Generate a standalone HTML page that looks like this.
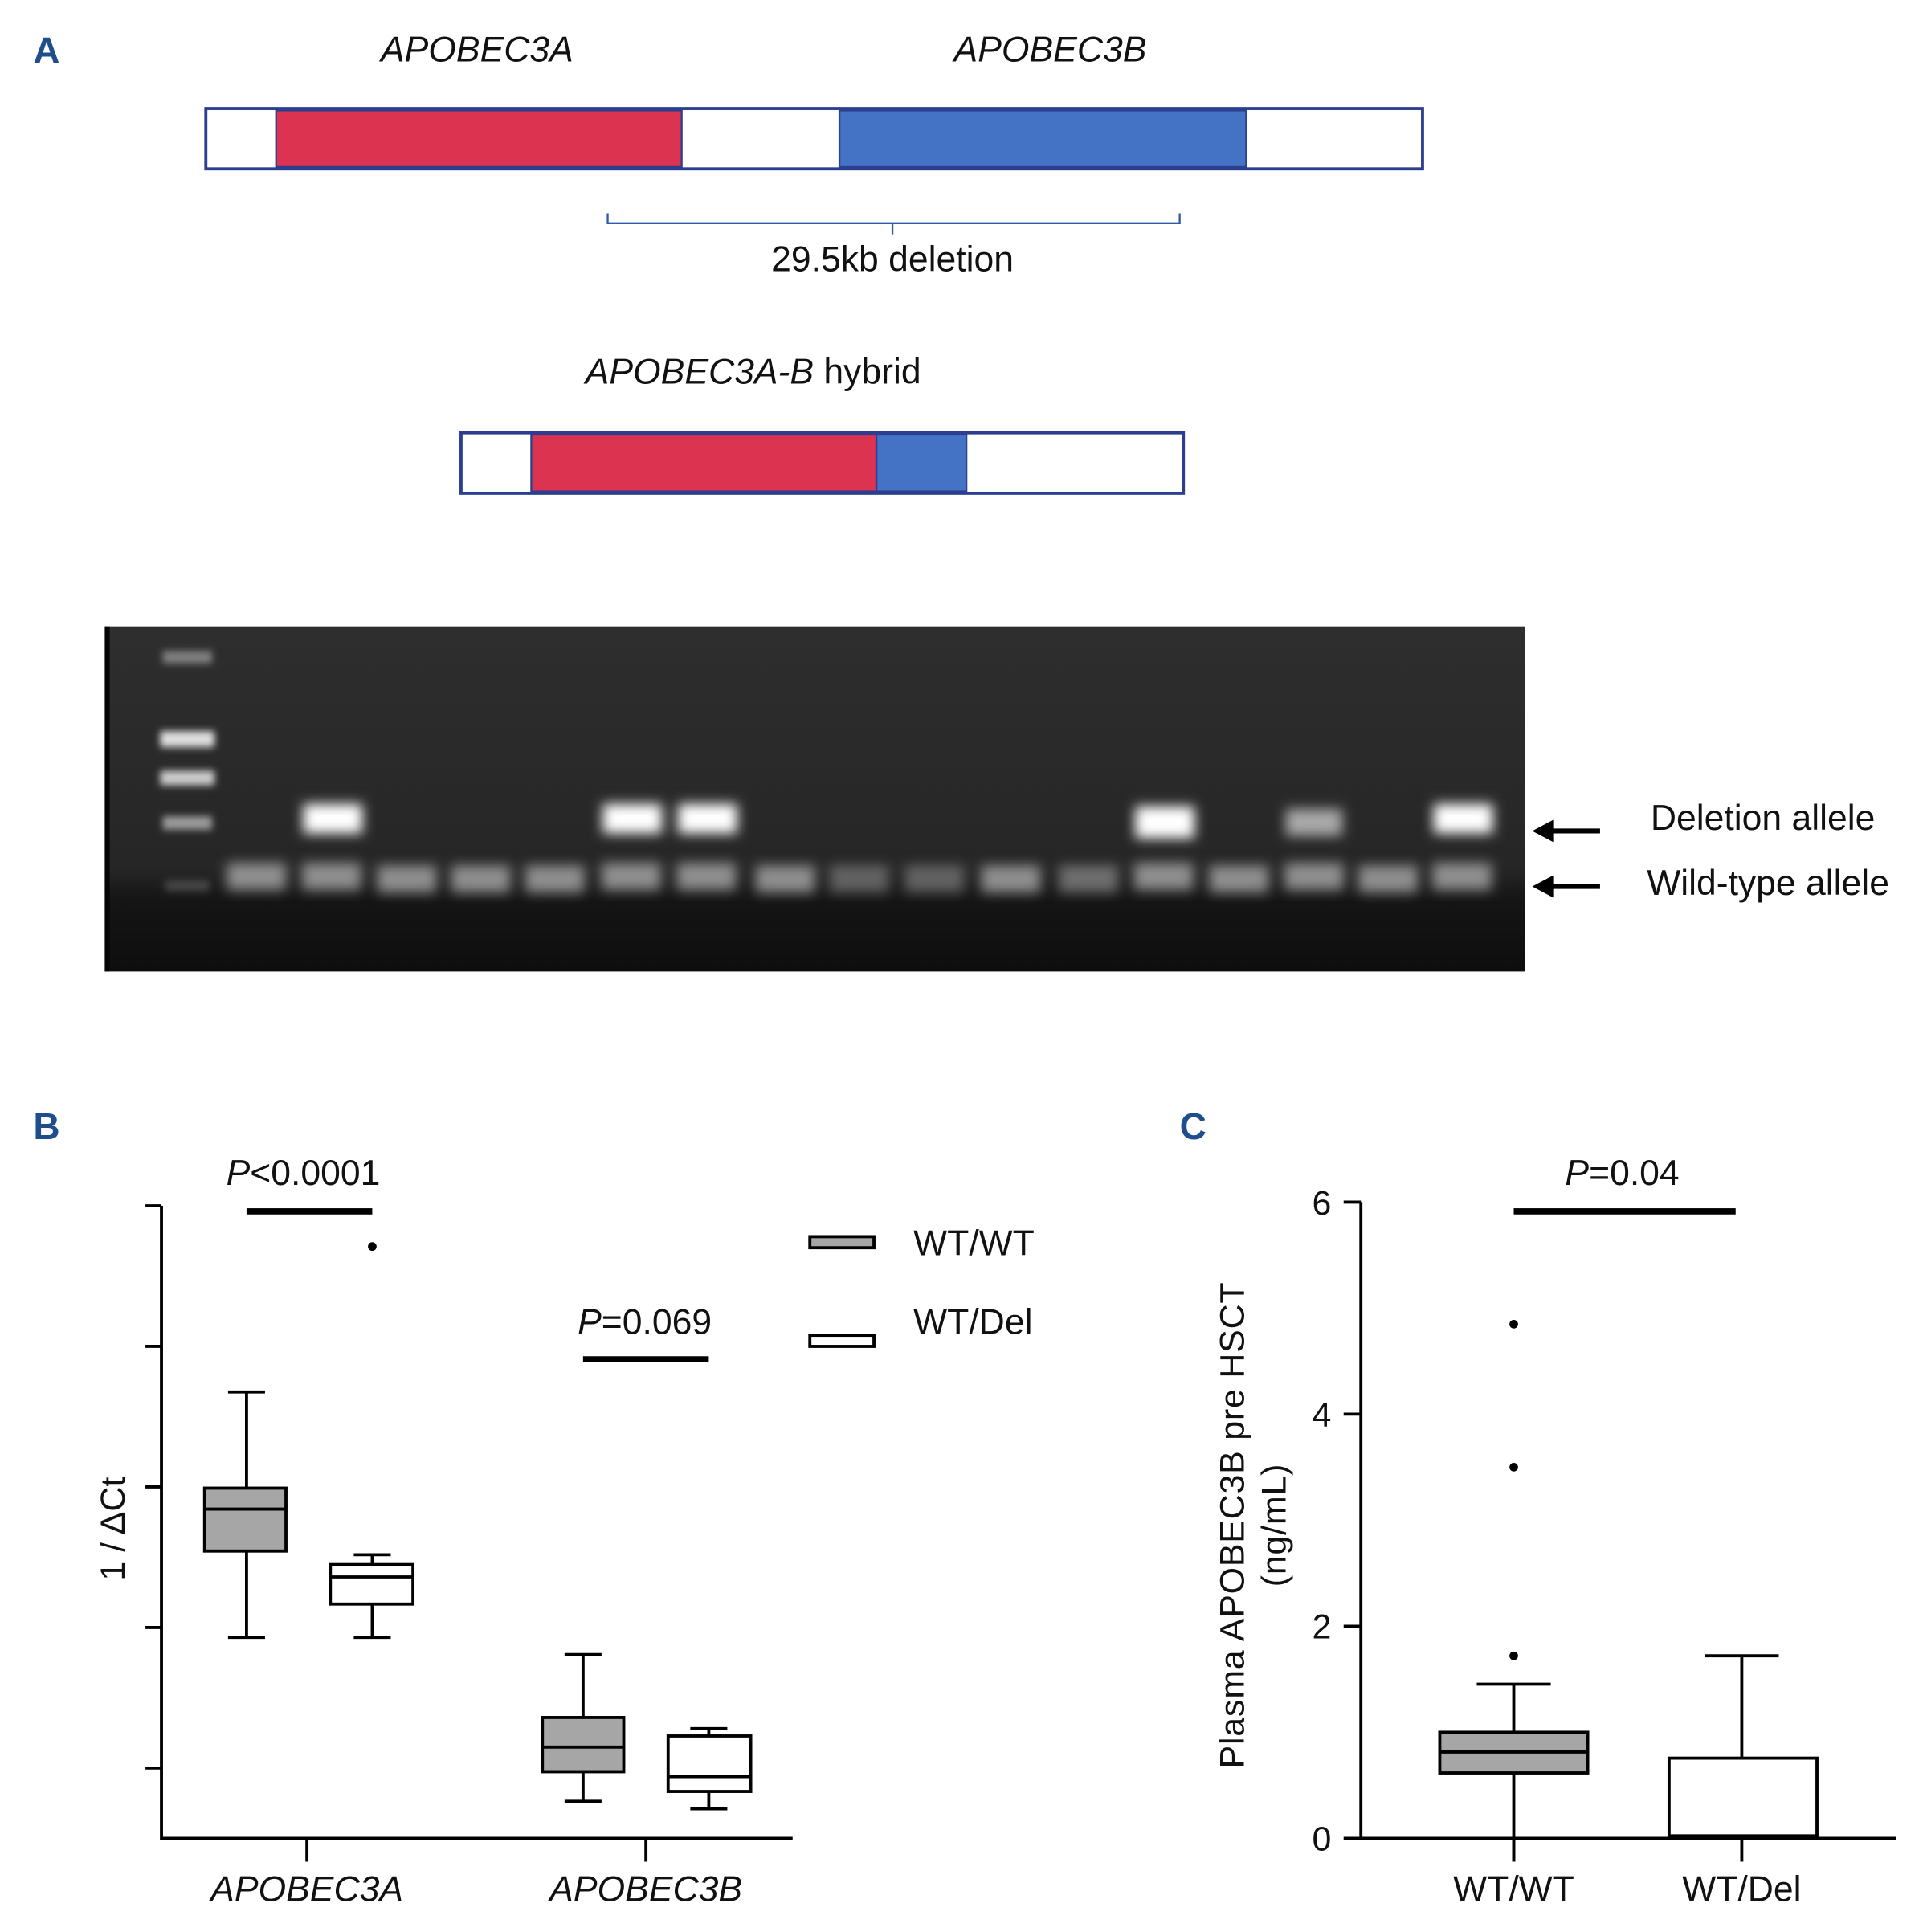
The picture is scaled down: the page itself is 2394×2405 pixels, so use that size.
<!DOCTYPE html>
<html><head><meta charset="utf-8"><style>
html,body{margin:0;padding:0;background:#fff;}
svg{display:block;}
text{font-family:"Liberation Sans",sans-serif;}
</style></head><body>
<svg width="2394" height="2405" viewBox="0 0 1560 1567" preserveAspectRatio="none" xmlns="http://www.w3.org/2000/svg">
<defs>
<filter id="bl" x="-50%" y="-100%" width="200%" height="300%"><feGaussianBlur stdDeviation="5"/></filter>
<filter id="bl2" x="-50%" y="-100%" width="200%" height="300%"><feGaussianBlur stdDeviation="3"/></filter>
<linearGradient id="gel" x1="0" y1="0" x2="0" y2="1">
<stop offset="0" stop-color="#2e2e2e"/><stop offset="0.7" stop-color="#262626"/><stop offset="0.8" stop-color="#141414"/><stop offset="1" stop-color="#0e0e0e"/>
</linearGradient>
</defs>
<!-- Panel A -->
<text x="27" y="51" font-size="30" font-weight="bold" fill="#1f4e8c">A</text>
<text x="387" y="50" font-size="29" font-style="italic" text-anchor="middle" fill="#111">APOBEC3A</text>
<text x="852" y="50" font-size="29" font-style="italic" text-anchor="middle" fill="#111">APOBEC3B</text>
<rect x="167" y="88" width="987" height="49" fill="#fff" stroke="#2c3e8f" stroke-width="2.5"/>
<rect x="224" y="89.5" width="329" height="46" fill="#dc3350" stroke="#2c3e8f" stroke-width="1.5"/>
<rect x="681" y="89.5" width="330" height="46" fill="#4472c4" stroke="#2c3e8f" stroke-width="1.5"/>
<path d="M493 173 V181 H957 V173 M724 181 V190" fill="none" stroke="#2c5aa8" stroke-width="1.5"/>
<text x="724" y="220" font-size="29" text-anchor="middle" fill="#111">29.5kb deletion</text>
<text x="611" y="311" font-size="29" text-anchor="middle" fill="#111"><tspan font-style="italic">APOBEC3A-B</tspan> hybrid</text>
<rect x="374" y="351" width="586" height="49" fill="#fff" stroke="#2c3e8f" stroke-width="2.5"/>
<rect x="431" y="352.5" width="280" height="46" fill="#dc3350" stroke="#2c3e8f" stroke-width="1.5"/>
<rect x="711" y="352.5" width="73" height="46" fill="#4472c4" stroke="#2c3e8f" stroke-width="1.5"/>
<!-- Gel -->
<rect x="85" y="508" width="1152" height="280" fill="url(#gel)"/>
<rect x="85" y="508" width="4" height="280" fill="#050505"/>
<g filter="url(#bl2)" fill="#e8e8e8">
<rect x="132" y="528" width="40" height="10" opacity="0.45"/>
<rect x="130" y="593" width="44" height="13" opacity="0.95"/>
<rect x="130" y="625" width="44" height="12" opacity="0.85"/>
<rect x="132" y="662" width="40" height="11" opacity="0.6"/>
<rect x="134" y="714" width="36" height="9" opacity="0.2"/>
</g>
<g filter="url(#bl)" fill="#bdbdbd" opacity="0.7">
<rect x="184" y="700" width="48" height="22"/><rect x="245" y="700" width="48" height="22"/>
<rect x="306" y="702" width="48" height="22"/><rect x="366" y="702" width="48" height="22"/>
<rect x="426" y="702" width="48" height="22"/><rect x="488" y="700" width="48" height="22"/>
<rect x="549" y="700" width="48" height="22"/><rect x="613" y="702" width="48" height="22"/>
<rect x="673" y="702" width="48" height="22" opacity="0.6"/><rect x="734" y="702" width="48" height="22" opacity="0.6"/>
<rect x="796" y="702" width="48" height="22"/><rect x="859" y="702" width="48" height="22" opacity="0.7"/>
<rect x="920" y="700" width="48" height="22"/><rect x="981" y="702" width="48" height="22"/>
<rect x="1042" y="700" width="48" height="22"/><rect x="1102" y="702" width="48" height="22"/>
<rect x="1162" y="700" width="48" height="22"/>
</g>
<g filter="url(#bl)" fill="#ffffff">
<rect x="246" y="652" width="48" height="24"/>
<rect x="489" y="652" width="48" height="24"/>
<rect x="550" y="652" width="48" height="24"/>
<rect x="921" y="654" width="48" height="26"/>
<rect x="1043" y="656" width="46" height="22" opacity="0.6"/>
<rect x="1163" y="652" width="48" height="24"/>
</g>
<!-- arrows -->
<g stroke="#000" stroke-width="4"><line x1="1298" y1="674" x2="1256" y2="674"/><line x1="1298" y1="719" x2="1256" y2="719"/></g>
<polygon points="1243,674 1260,665 1260,683" fill="#000"/>
<polygon points="1243,719 1260,710 1260,728" fill="#000"/>
<text x="1339" y="673" font-size="29" fill="#111">Deletion allele</text>
<text x="1336" y="726" font-size="29" fill="#111">Wild-type allele</text>
<!-- Panel B -->
<text x="27" y="924" font-size="30" font-weight="bold" fill="#1f4e8c">B</text>
<g stroke="#000" stroke-width="2.5" fill="none">
<path d="M131 978 V1491 H643"/>
<path d="M118 978 H131 M118 1092 H131 M118 1206 H131 M118 1320 H131 M118 1434 H131"/>
<path d="M249 1491 V1510 M524 1491 V1510"/>
</g>
<text transform="translate(101,1240) rotate(-90)" font-size="28" text-anchor="middle" fill="#111">1 / ΔCt</text>
<text x="246" y="961" font-size="29" text-anchor="middle" fill="#111"><tspan font-style="italic">P</tspan>&lt;0.0001</text>
<rect x="200" y="980" width="102" height="5" fill="#000"/>
<circle cx="302" cy="1011" r="3.5" fill="#000"/>
<text x="523" y="1082" font-size="29" text-anchor="middle" fill="#111"><tspan font-style="italic">P</tspan>=0.069</text>
<rect x="473" y="1100" width="102" height="5" fill="#000"/>
<g stroke="#000" stroke-width="2.5">
<path d="M200 1129 V1207 M200 1258 V1328 M185 1129 H215 M185 1328 H215"/>
<rect x="166" y="1207" width="66" height="51" fill="#a6a6a6"/>
<path d="M166 1224 H232"/>
<path d="M302 1261 V1269 M302 1301 V1328 M287 1261 H317 M287 1328 H317"/>
<rect x="268" y="1269" width="67" height="32" fill="#fff"/>
<path d="M268 1279 H335"/>
<path d="M473 1342 V1393 M473 1437 V1461 M458 1342 H488 M458 1461 H488"/>
<rect x="440" y="1393" width="66" height="44" fill="#a6a6a6"/>
<path d="M440 1417 H506"/>
<path d="M575 1402 V1408 M575 1453 V1467 M560 1402 H590 M560 1467 H590"/>
<rect x="542" y="1408" width="67" height="45" fill="#fff"/>
<path d="M542 1441 H609"/>
<rect x="657" y="1003" width="52" height="9" fill="#a6a6a6"/>
<rect x="657" y="1083" width="52" height="9" fill="#fff"/>
</g>
<text x="741" y="1018" font-size="29" fill="#111">WT/WT</text>
<text x="741" y="1082" font-size="29" fill="#111">WT/Del</text>
<text x="249" y="1542" font-size="29" font-style="italic" text-anchor="middle" fill="#111">APOBEC3A</text>
<text x="524" y="1542" font-size="29" font-style="italic" text-anchor="middle" fill="#111">APOBEC3B</text>
<!-- Panel C -->
<text x="957" y="924" font-size="30" font-weight="bold" fill="#1f4e8c">C</text>
<g stroke="#000" stroke-width="2.5" fill="none">
<path d="M1104 975 V1491 M1090 1491 H1538"/>
<path d="M1090 975 H1104 M1090 1147 H1104 M1090 1319 H1104"/>
<path d="M1228 1491 V1510 M1413 1491 V1510"/>
</g>
<g font-size="28" text-anchor="end" fill="#111">
<text x="1080" y="985">6</text><text x="1080" y="1157">4</text><text x="1080" y="1329">2</text><text x="1080" y="1501">0</text>
</g>
<text transform="translate(1009,1237) rotate(-90)" font-size="28" text-anchor="middle" fill="#111" letter-spacing="0.5">Plasma APOBEC3B pre  HSCT</text>
<text transform="translate(1043,1237) rotate(-90)" font-size="28" text-anchor="middle" fill="#111" letter-spacing="0.5">(ng/mL)</text>
<text x="1316" y="961" font-size="29" text-anchor="middle" fill="#111"><tspan font-style="italic">P</tspan>=0.04</text>
<rect x="1228" y="980" width="180" height="5" fill="#000"/>
<g fill="#000"><circle cx="1228" cy="1074" r="3.5"/><circle cx="1228" cy="1190" r="3.5"/><circle cx="1228" cy="1343" r="3.5"/></g>
<g stroke="#000" stroke-width="2.5">
<path d="M1228 1366 V1405 M1228 1438 V1510 M1198 1366 H1258"/>
<rect x="1168" y="1405" width="120" height="33" fill="#a6a6a6"/>
<path d="M1168 1421 H1288"/>
<path d="M1413 1343 V1426 M1383 1343 H1443"/>
<rect x="1354" y="1426" width="120" height="63" fill="#fff"/>
</g>
<text x="1228" y="1542" font-size="29" text-anchor="middle" fill="#111">WT/WT</text>
<text x="1413" y="1542" font-size="29" text-anchor="middle" fill="#111">WT/Del</text>
</svg>
</body></html>
